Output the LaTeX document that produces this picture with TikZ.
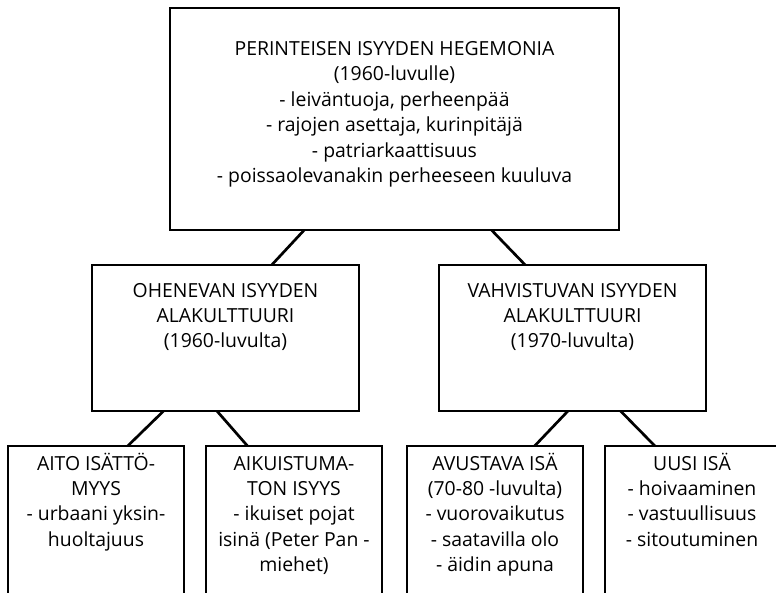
\documentclass[tikz,border=0pt]{standalone}
\usepackage{fontspec}
\setmainfont{Open Sans}
\usetikzlibrary{calc}
\tikzset{
  box/.style={draw, line width=2.9pt, rectangle, inner sep=0pt, outer sep=0pt},
  txt/.style={anchor=north, align=center, inner sep=0pt, font=\fontsize{19.4}{25.4}\selectfont},
  link/.style={line width=2.7pt},
}
\begin{document}
\begin{tikzpicture}[x=1pt,y=-1pt]
\useasboundingbox (0,0) rectangle (776,592);
\clip (0,0) rectangle (776,592);
% boxes
\node[box, minimum width=449pt, minimum height=222pt] (top) at (394.5,119) {};
\node[box, minimum width=267pt, minimum height=146pt] (ml) at (225.5,338) {};
\node[box, minimum width=267pt, minimum height=146pt] (mr) at (572.5,338) {};
\node[box, minimum width=176pt, minimum height=170pt] (b1) at (96,531) {};
\node[box, minimum width=176pt, minimum height=170pt] (b2) at (294,531) {};
\node[box, minimum width=176pt, minimum height=170pt] (b3) at (495,531) {};
\node[box, minimum width=174pt, minimum height=170pt] (b4) at (692,531) {};
% texts
\node[txt] (ttop) at ($(top.north)+(0,29.5)$) {\strut PERINTEISEN ISYYDEN HEGEMONIA\\(1960-luvulle)\\- leiväntuoja, perheenpää\\- rajojen asettaja, kurinpitäjä\\- patriarkaattisuus\\- poissaolevanakin perheeseen kuuluva};
\node[txt] (tml) at ($(ml.north)+(0,14.2)$) {\strut OHENEVAN ISYYDEN\\ALAKULTTUURI\\(1960-luvulta)};
\node[txt] (tmr) at ($(mr.north)+(0,14.2)$) {\strut VAHVISTUVAN ISYYDEN\\ALAKULTTUURI\\(1970-luvulta)};
\node[txt] (tb1) at ($(b1.north)+(0,6.2)$) {\strut AITO ISÄTTÖ-\\MYYS\\- urbaani yksin-\\huoltajuus};
\node[txt] (tb2) at ($(b2.north)+(0,6.2)$) {\strut AIKUISTUMA-\\TON ISYYS\\- ikuiset pojat\\isinä (Peter Pan -\\miehet)};
\node[txt] (tb3) at ($(b3.north)+(0,6.2)$) {\strut AVUSTAVA ISÄ\\(70-80 -luvulta)\\- vuorovaikutus\\- saatavilla olo\\- äidin apuna};
\node[txt] (tb4) at ($(b4.north)+(0,6.2)$) {\strut UUSI ISÄ\\- hoivaaminen\\- vastuullisuus\\- sitoutuminen};
% connectors
\draw[link] ($(top.south west)!0.299!(top.south east)$) -- ($(ml.north west)!0.673!(ml.north east)$);
\draw[link] ($(top.south west)!0.716!(top.south east)$) -- ($(mr.north west)!0.323!(mr.north east)$);
\draw[link] ($(ml.south west)!0.268!(ml.south east)$) -- ($(b1.north west)!0.68!(b1.north east)$);
\draw[link] ($(ml.south west)!0.468!(ml.south east)$) -- ($(b2.north west)!0.236!(b2.north east)$);
\draw[link] ($(mr.south west)!0.483!(mr.south east)$) -- ($(b3.north west)!0.725!(b3.north east)$);
\draw[link] ($(mr.south west)!0.680!(mr.south east)$) -- ($(b4.north west)!0.287!(b4.north east)$);
\end{tikzpicture}
\end{document}
